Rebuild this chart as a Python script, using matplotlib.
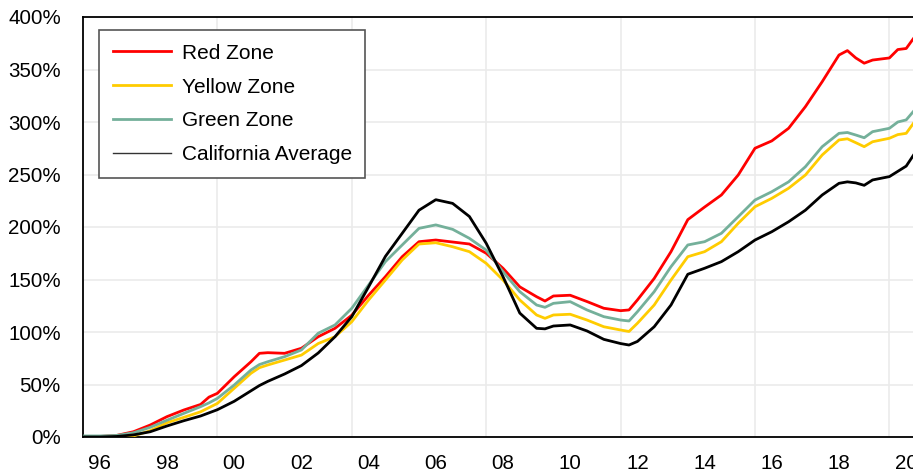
import numpy as np
import matplotlib.pyplot as plt
from matplotlib.ticker import FuncFormatter

years = [1996.0, 1996.5, 1997.0, 1997.5, 1998.0, 1998.5, 1999.0, 1999.5, 1999.75, 2000.0,
         2000.5, 2001.0, 2001.25, 2001.5, 2002.0, 2002.5, 2003.0, 2003.5, 2004.0, 2004.5,
         2005.0, 2005.5, 2006.0, 2006.5, 2007.0, 2007.5, 2008.0, 2008.5, 2009.0, 2009.5,
         2009.75, 2010.0, 2010.5, 2011.0, 2011.5, 2012.0, 2012.25, 2012.5, 2013.0, 2013.5,
         2014.0, 2014.5, 2015.0, 2015.5, 2016.0, 2016.5, 2017.0, 2017.5, 2018.0, 2018.5,
         2018.75, 2019.0, 2019.25, 2019.5, 2020.0, 2020.25, 2020.5, 2020.75]

red_zone = [0, 0.5, 1.5, 5, 11.4, 19.4, 25.7, 31, 38, 41.6,
            57.4, 71.7, 79.7, 80.3, 79.7, 84.5, 95.5, 103.5, 116, 135,
            152.7, 171.7, 186, 187.6, 185.7, 183.8, 175, 160.7, 143, 133.6,
            129.5, 134.3, 135, 129, 122.6, 120.3, 121, 130.5, 151, 176.5,
            207, 219, 230.5, 249.5, 275, 282, 294, 314.6, 338.4, 363.8,
            368, 361, 356, 359, 361, 369, 370, 381]

yellow_zone = [0, 0, 0, 1, 6, 13.6, 18.7, 24, 28, 32,
               46.4, 60.7, 66, 68.6, 73.3, 78, 89, 95.5, 109.8, 130.5,
               149.5, 168.6, 183.8, 185, 181.2, 176.5, 165.4, 149.5, 130.5, 116.2,
               113, 116.2, 116.9, 111.4, 105, 101.9, 100.5, 108.3, 125.7, 149.5,
               171.7, 176.5, 186, 203.5, 219.3, 227.3, 236.9, 249.5, 268.6, 282.9,
               284, 280.3, 276.5, 281.2, 284.5, 288, 289.2, 300.3]

green_zone = [1, 1, 1.5, 4, 9.2, 16, 22.5, 28.9, 32.5, 36.8,
              49.5, 63.8, 69, 71.7, 76.5, 82.9, 98.8, 106.7, 122.6, 144.8,
              167, 182.9, 198.7, 202, 197.8, 189.2, 178, 157.4, 138.4, 125.7,
              123.5, 127.3, 128.9, 121, 114.6, 111.4, 110.5, 119.3, 138.4, 162.2,
              182.9, 186, 194, 209.8, 225.7, 233.6, 243, 257.4, 276.5, 289.2,
              290, 287.6, 285, 290.8, 294, 300, 302, 311.4]

california = [0, 0, 0.5, 2, 5, 10.5, 15.5, 20, 23, 26,
              34, 44, 49, 53, 60, 68, 80, 95.5, 114.6, 143,
              172, 194, 216, 226, 222.5, 210, 184.5, 152.7, 118, 103.5,
              103, 105.7, 106.7, 101, 93, 89, 87.6, 91, 105, 125.7,
              155, 160.7, 167, 176.5, 187.6, 195.5, 205, 216, 230.5, 241.6,
              243, 242, 239.7, 244.8, 248, 253, 258, 270]

tick_years = ['96', '98', '00', '02', '04', '06', '08', '10', '12', '14', '16', '18', '20']

plt.rcParams['font.family'] = ['Liberation Sans', 'DejaVu Sans']
plt.rcParams['font.size'] = 14.8

fig = plt.figure(figsize=(9.13, 4.74), dpi=100)
ax = fig.add_axes([83 / 913, 37 / 474, 840 / 913, 420 / 474])

ax.plot(years, red_zone, color='#ff0000', lw=2, label='Red Zone', zorder=3)
ax.plot(years, yellow_zone, color='#ffcc00', lw=2, label='Yellow Zone', zorder=3)
ax.plot(years, green_zone, color='#74b09a', lw=2, label='Green Zone', zorder=3)
ax.plot(years, california, color='black', lw=2, label='California Average', zorder=4)

ax.set_xlim(1996, 2021)
ax.set_ylim(0, 400)

# labels sit mid-year, grid lines on Jan of every 4th year
ax.set_xticks([1996.5 + 2 * i for i in range(len(tick_years))])
ax.set_xticklabels(tick_years)
ax.set_xticks(np.arange(2000, 2021, 4), minor=True)
ax.tick_params(axis='x', which='both', length=0, pad=12)
ax.grid(False)
ax.grid(True, axis='x', which='minor', color='#ebebeb', lw=1.2, zorder=0)

ax.set_yticks(np.arange(0, 401, 50))
ax.yaxis.set_major_formatter(FuncFormatter(lambda v, p: f'{v:.0f}%'))
ax.tick_params(axis='y', length=0, pad=16)
ax.grid(True, axis='y', which='major', color='#ebebeb', lw=1.2, zorder=0)

for s in ax.spines.values():
    s.set_linewidth(1.3)
    s.set_color('black')

leg = ax.legend(loc='upper left', bbox_to_anchor=(16 / 840, 1 - 13 / 420),
                borderaxespad=0, fancybox=False, edgecolor='#555555',
                framealpha=1, handlelength=2.8, handletextpad=0.5,
                labelspacing=0.71, borderpad=0.66, fontsize=15)
leg.get_frame().set_linewidth(1.2)
leg.get_lines()[3].set_linewidth(1)
leg.get_lines()[3].set_color('#333333')

fig.savefig('out.png', dpi=100)
